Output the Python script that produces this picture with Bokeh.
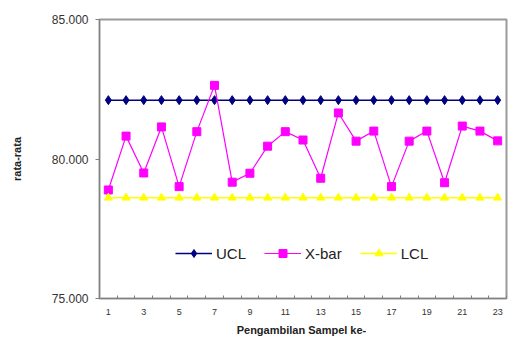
from bokeh.plotting import figure
from bokeh.models import Legend, LegendItem, FixedTicker, NumeralTickFormatter, Range1d
from bokeh.embed import file_html
from bokeh.resources import INLINE

samples = list(range(1, 24))
xbar = [78.89, 80.82, 79.50, 81.15, 79.01, 80.98, 82.64, 79.17, 79.49, 80.46,
        80.98, 80.68, 79.31, 81.65, 80.64, 81.00, 79.01, 80.64, 81.00, 79.15,
        81.18, 81.00, 80.65]
ucl = [82.11] * 23
lcl = [78.61] * 23
x_tick_labels = [1, 3, 5, 7, 9, 11, 13, 15, 17, 19, 21, 23]
y_ticks = [75, 80, 85]

FONT = "Liberation Sans"

p = figure(width=510, height=345, output_backend="svg", toolbar_location=None,
           x_range=Range1d(0.5, 23.5), y_range=Range1d(75, 85),
           min_border_left=99, min_border_right=4, min_border_top=19, min_border_bottom=47)
p.xgrid.visible = False
p.ygrid.visible = False
p.outline_line_color = "#9a9a9a"
p.outline_line_width = 2
p.background_fill_color = "white"
p.border_fill_color = "white"

r1 = p.line(samples, ucl, line_color="#000080", line_width=1.5)
r1m = p.scatter(samples, ucl, marker="diamond", size=9, fill_color="#000080", line_color="#000080")
r2 = p.line(samples, xbar, line_color="#ff00ff", line_width=1.2)
r2m = p.scatter(samples, xbar, marker="square", size=8, fill_color="#ff00ff", line_color="#ff00ff")
r3 = p.line(samples, lcl, line_color="#ffff00", line_width=1.5)
r3m = p.scatter(samples, lcl, marker="triangle", size=8, fill_color="#ffff00", line_color="#ffff00")

xa = p.below[0]
xa.ticker = FixedTicker(ticks=x_tick_labels, minor_ticks=[i + 0.5 for i in range(0, 24)])
xa.major_tick_in = 0
xa.major_tick_out = 0
xa.minor_tick_in = 3
xa.minor_tick_out = 0
xa.axis_line_color = "#808080"
xa.minor_tick_line_color = "#808080"
xa.major_label_text_font = FONT
xa.major_label_text_font_size = "9px"
xa.major_label_text_color = "#333333"
xa.major_label_standoff = 10
xa.axis_label = "Pengambilan  Sampel ke-"
xa.axis_label_text_font = FONT
xa.axis_label_text_font_size = "11px"
xa.axis_label_text_font_style = "bold"
xa.axis_label_standoff = 6
xa.axis_label_text_color = "#222222"

ya = p.left[0]
ya.ticker = FixedTicker(ticks=y_ticks)
ya.formatter = NumeralTickFormatter(format="0.000")
ya.major_tick_in = 0
ya.major_tick_out = 4
ya.minor_tick_line_color = None
ya.axis_line_color = "#808080"
ya.major_tick_line_color = "#808080"
ya.major_label_text_font = FONT
ya.major_label_text_font_size = "12px"
ya.major_label_text_color = "#333333"
ya.major_label_standoff = 7
ya.axis_label = "rata-rata"
ya.axis_label_text_font = FONT
ya.axis_label_text_font_size = "11px"
ya.axis_label_text_font_style = "bold"
ya.axis_label_standoff = 26
ya.axis_label_text_color = "#222222"

legend = Legend(items=[LegendItem(label="UCL", renderers=[r1, r1m]),
                       LegendItem(label="X-bar", renderers=[r2, r2m]),
                       LegendItem(label="LCL", renderers=[r3, r3m])],
                orientation="horizontal", location=(76, 35),
                border_line_color=None, background_fill_alpha=0,
                label_text_font=FONT, label_text_font_size="15px",
                label_text_color="#222222",
                glyph_width=37, spacing=18, label_standoff=4, padding=4)
p.add_layout(legend, "center")

open("out.html", "w").write(file_html(p, INLINE))
